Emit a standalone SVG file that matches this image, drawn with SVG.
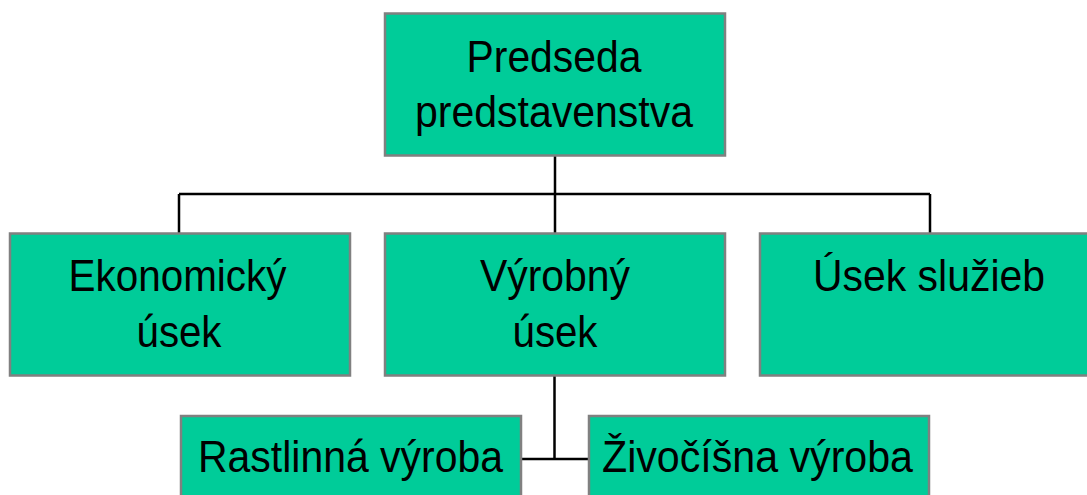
<svg xmlns="http://www.w3.org/2000/svg" width="1087" height="495" viewBox="0 0 1087 495">
<style>
.box{fill:#00CC99;stroke:#808080;stroke-width:2.5}
.lbl{font-family:"Liberation Sans",Arial,sans-serif;font-size:44px;fill:#000;text-anchor:middle}
.con{stroke:#000;stroke-width:2.5;fill:none}
</style>
<rect width="1087" height="495" fill="#fff"/>
<g id="connectors">
<path class="con" d="M555 156V233M179 194H930M179 194V233M930 194V233"/>
<path class="con" d="M554.5 376V459M521 459H589"/>
</g>
<g id="predseda">
<rect class="box" x="385" y="13.5" width="340" height="142"/>
<text class="lbl" x="554" y="72" textLength="175" lengthAdjust="spacingAndGlyphs">Predseda</text>
<text class="lbl" x="554" y="127" textLength="278" lengthAdjust="spacingAndGlyphs">predstavenstva</text>
</g>
<g id="ekonomicky">
<rect class="box" x="10" y="233.5" width="340" height="142"/>
<text class="lbl" x="177.5" y="291" textLength="218" lengthAdjust="spacingAndGlyphs">Ekonomický</text>
<text class="lbl" x="179" y="346.5" textLength="85" lengthAdjust="spacingAndGlyphs">úsek</text>
</g>
<g id="vyrobny">
<rect class="box" x="385" y="233.5" width="340" height="142"/>
<text class="lbl" x="555" y="291" textLength="150" lengthAdjust="spacingAndGlyphs">Výrobný</text>
<text class="lbl" x="555" y="346.5" textLength="85" lengthAdjust="spacingAndGlyphs">úsek</text>
</g>
<g id="sluzby">
<rect class="box" x="760" y="233.5" width="340" height="142"/>
<text class="lbl" x="929" y="291" textLength="232" lengthAdjust="spacingAndGlyphs">Úsek služieb</text>
</g>
<g id="rastlinna">
<rect class="box" x="181" y="416" width="340" height="142"/>
<text class="lbl" x="350.5" y="471.5" textLength="305" lengthAdjust="spacingAndGlyphs">Rastlinná výroba</text>
</g>
<g id="zivocisna">
<rect class="box" x="589" y="416" width="340" height="142"/>
<text class="lbl" x="757.5" y="471.5" textLength="311" lengthAdjust="spacingAndGlyphs">Živočíšna výroba</text>
</g>
</svg>
